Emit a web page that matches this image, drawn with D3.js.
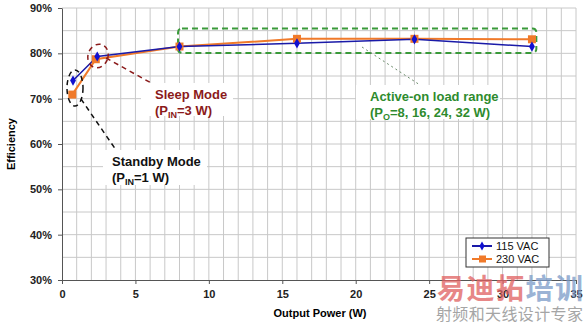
<!DOCTYPE html>
<html>
<head>
  <script src="https://d3js.org/d3.v7.min.js"></script>
  <style>
    body { margin: 0; background: #fff; }
    text { font-family: Arial, "Liberation Sans", sans-serif; }
    .grid line { stroke: #c8c8c8; stroke-width: 1; }
    .axis text { font-size: 11px; font-weight: bold; fill: #222; }
    .axis path, .axis line { stroke: #555; }
  </style>
</head>
<body>
<div id="chart"></div>
<script>
  // data
  var series115 = [[0.75, 74.0], [2.4, 79.3], [8, 81.5], [16, 82.2], [24, 83.1], [32, 81.5]];
  var series230 = [[0.7, 70.9], [2.3, 78.7], [8, 81.5], [16, 83.2], [24, 83.2], [32, 83.1]];
  var seriesNames = ["115 VAC", "230 VAC"];
  var xTicks = [0, 5, 10, 15, 20, 25, 30, 35];
  var yTicks = [30, 40, 50, 60, 70, 80, 90];

  var width = 588, height = 324;
  var svg = d3.select("#chart").append("svg")
    .attr("width", width)
    .attr("height", height);

  var x = d3.scaleLinear().domain([0, 35]).range([62, 576]);
  var y = d3.scaleLinear().domain([30, 90]).range([280, 8]);

  // grid
  var grid = svg.append("g").attr("class", "grid");
  grid.selectAll(".vx").data(d3.range(1, 36)).enter().append("line")
    .attr("x1", function(d) { return x(d); }).attr("x2", function(d) { return x(d); })
    .attr("y1", y(30)).attr("y2", y(90));
  grid.selectAll(".hy").data(d3.range(35, 91, 5)).enter().append("line")
    .attr("x1", x(0)).attr("x2", x(35))
    .attr("y1", function(d) { return y(d); }).attr("y2", function(d) { return y(d); });

  // axes
  svg.append("g").attr("class", "axis")
    .attr("transform", "translate(0," + y(30) + ")")
    .call(d3.axisBottom(x).tickValues(xTicks).tickSize(4).tickPadding(6).tickSizeOuter(0));
  svg.append("g").attr("class", "axis")
    .attr("transform", "translate(" + x(0) + ",0)")
    .call(d3.axisLeft(y).tickValues(yTicks).tickSize(4).tickPadding(6).tickSizeOuter(0)
      .tickFormat(function(d) { return d + "%"; }));

  svg.append("text")
    .attr("x", 320).attr("y", 317)
    .attr("text-anchor", "middle")
    .style("font-size", "11px").style("font-weight", "bold")
    .text("Output Power (W)");
  svg.append("text")
    .attr("transform", "translate(15," + y(60) + ") rotate(-90)")
    .attr("text-anchor", "middle")
    .style("font-size", "11px").style("font-weight", "bold")
    .text("Efficiency");

  // green active-on range box
  svg.append("rect")
    .attr("x", x(7.9)).attr("y", y(85.5))
    .attr("width", x(32.3) - x(7.9)).attr("height", y(80.1) - y(85.5))
    .attr("rx", 4)
    .attr("fill", "none").attr("stroke", "#3a9a3a").attr("stroke-width", 2)
    .attr("stroke-dasharray", "6,4");

  // series lines
  var line = d3.line().x(function(d) { return x(d[0]); }).y(function(d) { return y(d[1]); });
  svg.append("path").datum(series230).attr("d", line)
    .attr("fill", "none").attr("stroke", "#f07a2a").attr("stroke-width", 2);
  svg.append("path").datum(series115).attr("d", line)
    .attr("fill", "none").attr("stroke", "#1a1aa8").attr("stroke-width", 1.5);

  svg.selectAll(".m230").data(series230).enter().append("rect")
    .attr("x", function(d) { return x(d[0]) - 4; })
    .attr("y", function(d) { return y(d[1]) - 4; })
    .attr("width", 8).attr("height", 8)
    .attr("fill", "#f07a2a");
  svg.selectAll(".m115").data(series115).enter().append("path")
    .attr("transform", function(d) { return "translate(" + x(d[0]) + "," + y(d[1]) + ")"; })
    .attr("d", d3.symbol().type(d3.symbolDiamond).size(30))
    .attr("fill", "#1010d0");

  // annotations: ellipses and leader lines
  svg.append("ellipse")
    .attr("cx", 75).attr("cy", 88).attr("rx", 8).attr("ry", 18)
    .attr("fill", "none").attr("stroke", "#111").attr("stroke-width", 1.5)
    .attr("stroke-dasharray", "5,4");
  svg.append("line")
    .attr("x1", 81).attr("y1", 99).attr("x2", 116).attr("y2", 150)
    .attr("stroke", "#111").attr("stroke-width", 1.5).attr("stroke-dasharray", "5,4");

  svg.append("ellipse")
    .attr("cx", 98).attr("cy", 56).attr("rx", 10).attr("ry", 12)
    .attr("transform", "rotate(20,98,56)")
    .attr("fill", "none").attr("stroke", "#8b1a1a").attr("stroke-width", 1.5)
    .attr("stroke-dasharray", "5,4");
  svg.append("line")
    .attr("x1", 106).attr("y1", 58).attr("x2", 153).attr("y2", 84)
    .attr("stroke", "#8b1a1a").attr("stroke-width", 1.5).attr("stroke-dasharray", "5,4");

  svg.append("line")
    .attr("x1", 362).attr("y1", 47).attr("x2", 420).attr("y2", 85)
    .attr("stroke", "#6a8a6a").attr("stroke-width", 1).attr("stroke-dasharray", "2,3");

  // annotation labels with white backing
  function label(x0, y0, w, h, tx, lines, color) {
    svg.append("rect").attr("x", x0).attr("y", y0).attr("width", w).attr("height", h).attr("fill", "#fff");
    lines.forEach(function(l, i) {
      var t = svg.append("text")
        .attr("x", tx).attr("y", y0 + 16 + i * 16)
        .style("font-size", "13px").style("font-weight", "bold")
        .attr("fill", color);
      l.forEach(function(part) {
        var s = t.append("tspan").text(part[0]);
        if (part[1]) s.attr("dy", part[1]).style("font-size", "9px");
        if (part[2]) s.attr("dy", part[2]);
      });
    });
  }
  label(103, 150, 104, 35, 112, [[["Standby Mode"]], [["(P"], ["IN", 3], ["=1 W)", null, -3]]], "#111");
  label(141, 83, 92, 33, 155, [[["Sleep Mode"]], [["(P"], ["IN", 3], ["=3 W)", null, -3]]], "#8b1a1a");
  label(356, 85, 144, 34, 370, [[["Active-on load range"]], [["(P"], ["O", 3], ["=8, 16, 24, 32 W)", null, -3]]], "#2e8b2e");

  // legend
  var lg = svg.append("g").attr("transform", "translate(466,238)");
  lg.append("rect").attr("width", 83).attr("height", 29)
    .attr("fill", "#fff").attr("stroke", "#333").attr("stroke-width", 1);
  var legendColors = ["#1a1aa8", "#f07a2a"];
  seriesNames.forEach(function(n, i) {
    var cy = 8 + i * 13;
    lg.append("line").attr("x1", 6).attr("x2", 26).attr("y1", cy).attr("y2", cy)
      .attr("stroke", legendColors[i]).attr("stroke-width", 2);
    if (i === 0) {
      lg.append("path").attr("transform", "translate(16," + cy + ")")
        .attr("d", d3.symbol().type(d3.symbolDiamond).size(24)).attr("fill", "#1010d0");
    } else {
      lg.append("rect").attr("x", 13).attr("y", cy - 3.5).attr("width", 7).attr("height", 7)
        .attr("fill", legendColors[i]);
    }
    lg.append("text").attr("x", 30).attr("y", cy + 4)
      .style("font-size", "11px").attr("fill", "#111").text(n);
  });

  // watermark
  var wm = svg.append("g").attr("opacity", 0.75);
  var wt = wm.append("text").attr("x", 437).attr("y", 299)
    .style("font-family", "'Noto Sans CJK SC'").style("font-size", "28px").style("font-weight", "bold")
    .attr("textLength", 146);
  wt.append("tspan").attr("fill", "#e06060").text("易迪拓");
  wt.append("tspan").attr("fill", "#7a9ac8").text("培训");
  wm.append("text").attr("x", 436).attr("y", 320)
    .style("font-family", "'Noto Sans CJK SC'").style("font-size", "16px")
    .attr("fill", "#888").attr("textLength", 147)
    .text("射频和天线设计专家");
</script>
</body>
</html>
